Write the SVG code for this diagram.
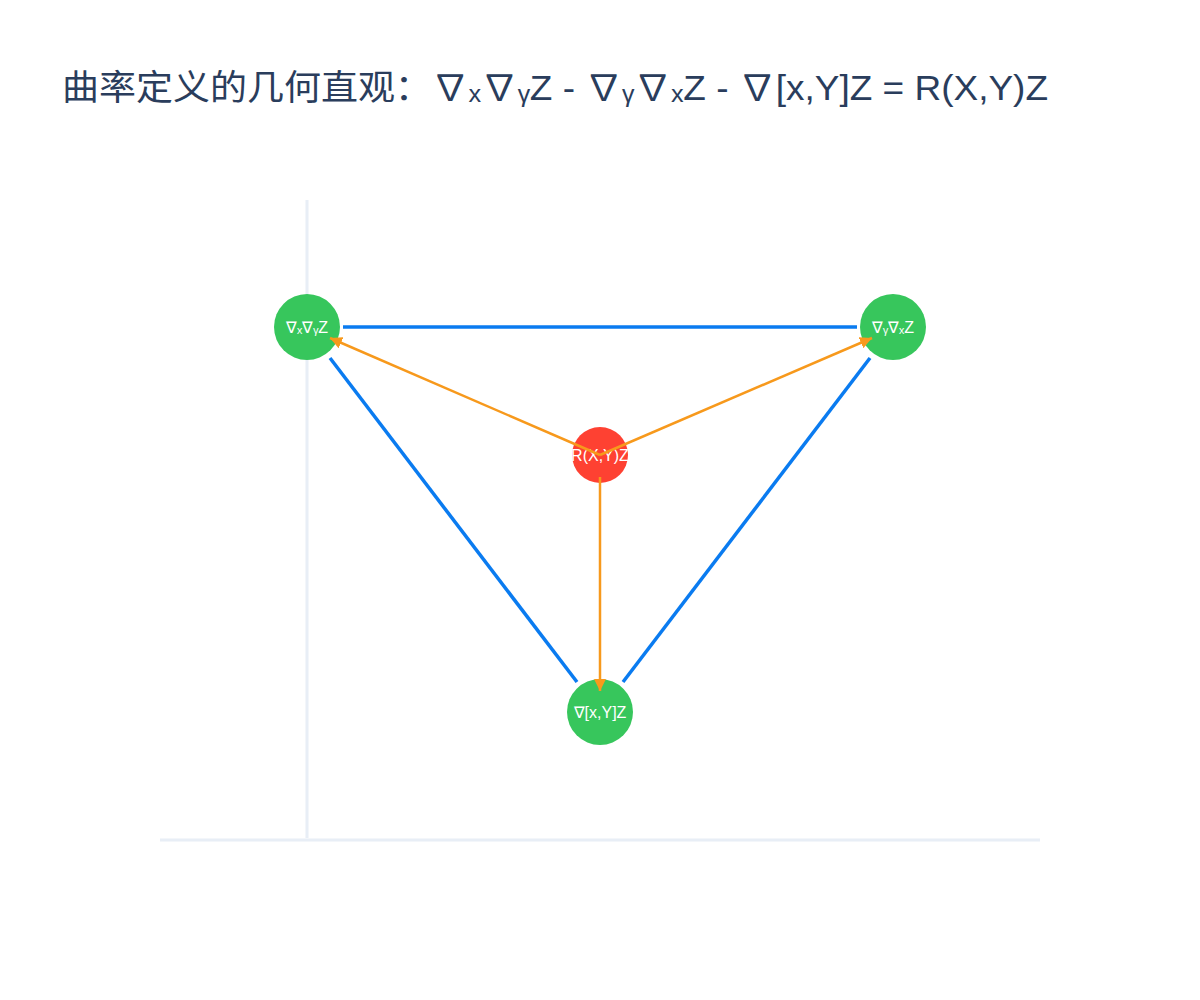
<svg xmlns="http://www.w3.org/2000/svg" width="1200" height="1000" viewBox="0 0 1200 1000">
<defs>
<marker id="ah" markerWidth="12" markerHeight="12" refX="10" refY="5" orient="auto" markerUnits="userSpaceOnUse" viewBox="0 0 10 10"><path d="M0,0 L10,5 L0,10 z" fill="#f7991c"/></marker>
<style>
.ax{stroke:#e8eef6;stroke-width:3}
.bl{stroke:#0a7bf0;stroke-width:3.5}
.or{stroke:#f7991c;stroke-width:2.5}
.lb{font-family:"Liberation Sans","Noto Sans",sans-serif;font-size:16px;fill:#fff;text-anchor:middle}
</style>
</defs>
<rect width="1200" height="1000" fill="#fff"/>
<text x="62" y="100" font-family="'Liberation Sans','Noto Sans CJK SC',sans-serif" font-size="35" fill="#2a3d5c" textLength="986" lengthAdjust="spacingAndGlyphs">曲率定义的几何直观：∇ₓ∇ᵧZ - ∇ᵧ∇ₓZ - ∇[x,Y]Z = R(X,Y)Z</text>
<line class="ax" x1="307" y1="200" x2="307" y2="838"/>
<line class="ax" x1="160" y1="840" x2="1040" y2="840"/>
<g id="n1"><circle cx="307" cy="327" r="33" fill="#37c65c"/><text class="lb" x="307" y="333">∇ₓ∇ᵧZ</text></g>
<g id="n2"><circle cx="893" cy="327" r="33" fill="#37c65c"/><text class="lb" x="893" y="333">∇ᵧ∇ₓZ</text></g>
<g id="n3"><circle cx="600" cy="712" r="33" fill="#37c65c"/><text class="lb" x="600" y="718">∇[x,Y]Z</text></g>
<g id="n4"><circle cx="600" cy="455" r="28" fill="#fe4132"/><text class="lb" x="600" y="461" font-size="18">R(X,Y)Z</text></g>
<g id="connectors">
<line class="bl" x1="343" y1="327" x2="857" y2="327"/>
<line class="bl" x1="330" y1="358" x2="577" y2="682"/>
<line class="bl" x1="870" y1="358" x2="623" y2="682"/>
<line class="or" x1="600" y1="455" x2="330" y2="338" marker-end="url(#ah)"/>
<line class="or" x1="600" y1="455" x2="872" y2="338" marker-end="url(#ah)"/>
<line class="or" x1="600" y1="477" x2="600" y2="691" marker-end="url(#ah)"/>
</g>
</svg>
